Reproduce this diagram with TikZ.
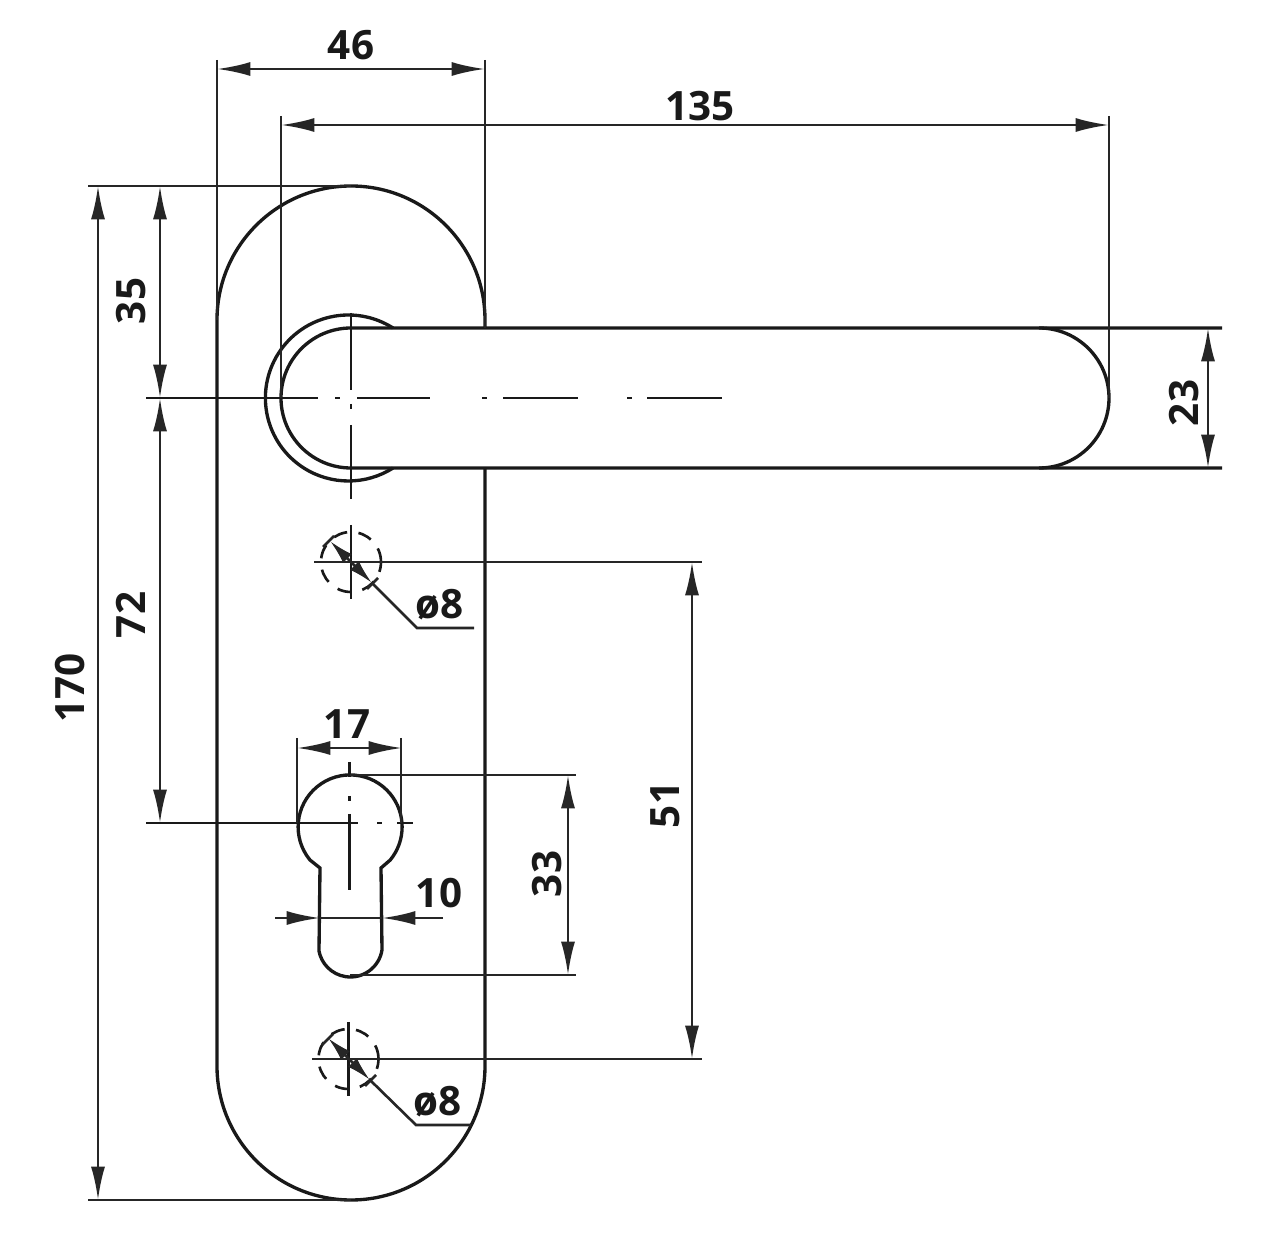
\documentclass[tikz,border=0pt]{standalone}
\usepackage{fontspec}
\setmainfont{Open Sans}
\usetikzlibrary{arrows.meta}

\begin{document}
\begin{tikzpicture}[x=.02cm,y=.02cm,
    body/.style={line width=1.9pt,black!90},
    thin line/.style={line width=1.5pt,black!85},
    centre line/.style={line width=1.5pt,black!90},
    dim/.style={thin line,{Latex[length=19pt,width=8pt]}-{Latex[length=19pt,width=8pt]}},
    small dim/.style={thin line,{Latex[length=14pt,width=7pt]}-{Latex[length=14pt,width=7pt]}},
    hole/.style={line width=1.5pt,black!90,dash pattern=on 8pt off 6.5pt},
    dimtext/.style={font=\bfseries\fontsize{23}{23}\selectfont,inner sep=0pt,black!90}]
  \useasboundingbox (0,0) rectangle (1276,-1246);
  % plate
  \draw[body] (485,-328) -- (485,-320) arc (0:180:134) -- (217,-1066) arc (180:360:134) -- (485,-468);
  % lever and rosette
  \draw[body] (393,-328) arc (57.5:302.5:83);
  \draw[body] (1222,-328) -- (351,-328) arc (90:270:70) -- (1222,-468);
  \draw[body] (1039,-328) arc (90:-90:70);
  % cylinder cut-out
  \draw[body] (319,-950) -- (320,-868) -- (310,-860) arc (219.5:-39.5:52) -- (381,-868) -- (382,-950) arc (-9:-171:32);
  % centre lines
  \draw[centre line] (146,-398) -- (318,-398);
  \draw[centre line] (335,-398) -- (340,-398);
  \draw[centre line] (357,-398) -- (430,-398);
  \draw[centre line] (482,-398) -- (487,-398);
  \draw[centre line] (503,-398) -- (578,-398);
  \draw[centre line] (627,-398) -- (632,-398);
  \draw[centre line] (647,-398) -- (722,-398);
  \draw[centre line] (351,-313) -- (351,-390);
  \draw[centre line] (351,-404) -- (351,-409);
  \draw[centre line] (351,-425) -- (351,-499);
  \draw[centre line] (146,-823) -- (358,-823);
  \draw[centre line] (377,-823) -- (382,-823);
  \draw[centre line] (397,-823) -- (413,-823);
  \draw[centre line] (349.5,-762) -- (349.5,-777);
  \draw[centre line] (349.5,-796) -- (349.5,-801);
  \draw[centre line] (349.5,-814) -- (349.5,-890);
  % fixing holes
  \draw[hole] (351,-562) circle (30);
  \draw[centre line] (351,-525) -- (351,-599);
  \draw[thin line] (314,-562) -- (702,-562);
  \draw[hole] (348.5,-1059) circle (30);
  \draw[centre line] (348.5,-1022) -- (348.5,-1096);
  \draw[thin line] (312,-1059) -- (702,-1059);
  % leaders
  \draw[thin line] (372,-583) -- (417,-628) -- (474,-628);
  \draw[small dim] (330,-541) -- (372,-583);
  \draw[thin line] (323,-547) -- (334,-536);
  \draw[thin line] (367,-589) -- (378,-578);
  \draw[thin line] (370,-1080) -- (416,-1125) -- (471,-1125);
  \draw[small dim] (328,-1038) -- (370,-1080);
  \draw[thin line] (322,-1045) -- (333,-1034);
  \draw[thin line] (365,-1086) -- (376,-1075);
  % extension lines
  \draw[thin line] (217,-60) -- (217,-320);
  \draw[thin line] (485,-60) -- (485,-328);
  \draw[thin line] (281,-116) -- (281,-398);
  \draw[thin line] (1109,-116) -- (1109,-398);
  \draw[thin line] (88,-186) -- (351,-186);
  \draw[thin line] (88,-1200) -- (351,-1200);
  \draw[thin line] (297,-738) -- (297,-823);
  \draw[thin line] (401,-738) -- (401,-823);
  \draw[thin line] (350,-775) -- (576,-775);
  \draw[thin line] (350,-975) -- (576,-975);
  % dimensions
  \draw[dim] (217,-69) -- (485,-69);
  \draw[dim] (281,-125) -- (1109,-125);
  \draw[dim] (98,-186) -- (98,-1200);
  \draw[dim] (160,-186) -- (160,-398);
  \draw[dim] (160,-398) -- (160,-823);
  \draw[dim] (297,-748) -- (402,-748);
  \draw[dim] (568,-775) -- (568,-975);
  \draw[dim] (692,-562) -- (692,-1059);
  \draw[dim] (1208,-328) -- (1208,-468);
  \draw[thin line,-{Latex[length=19pt,width=8pt]}] (275,-918) -- (320,-918);
  \draw[thin line,-{Latex[length=19pt,width=8pt]}] (443,-918) -- (382,-918);
  \draw[thin line] (320,-918) -- (382,-918);
  % labels
  \node[dimtext] (w46) at (351,-45) {46};
  \node[dimtext] (w135) at (700,-106) {135};
  \node[dimtext,rotate=90] (h170) at (70,-688) {170};
  \node[dimtext,rotate=90] (h35) at (131,-301) {35};
  \node[dimtext,rotate=90] (h72) at (131,-615) {72};
  \node[dimtext] (w17) at (347,-724) {17};
  \node[dimtext] (w10) at (439,-893) {10};
  \node[dimtext,rotate=90] (h33) at (547,-874) {33};
  \node[dimtext,rotate=90] (h51) at (665,-805) {51};
  \node[dimtext,rotate=90] (h23) at (1184,-403) {23};
  \node[dimtext] (d8a) at (440,-605) {ø8};
  \node[dimtext] (d8b) at (438,-1102) {ø8};
\end{tikzpicture}
\end{document}
